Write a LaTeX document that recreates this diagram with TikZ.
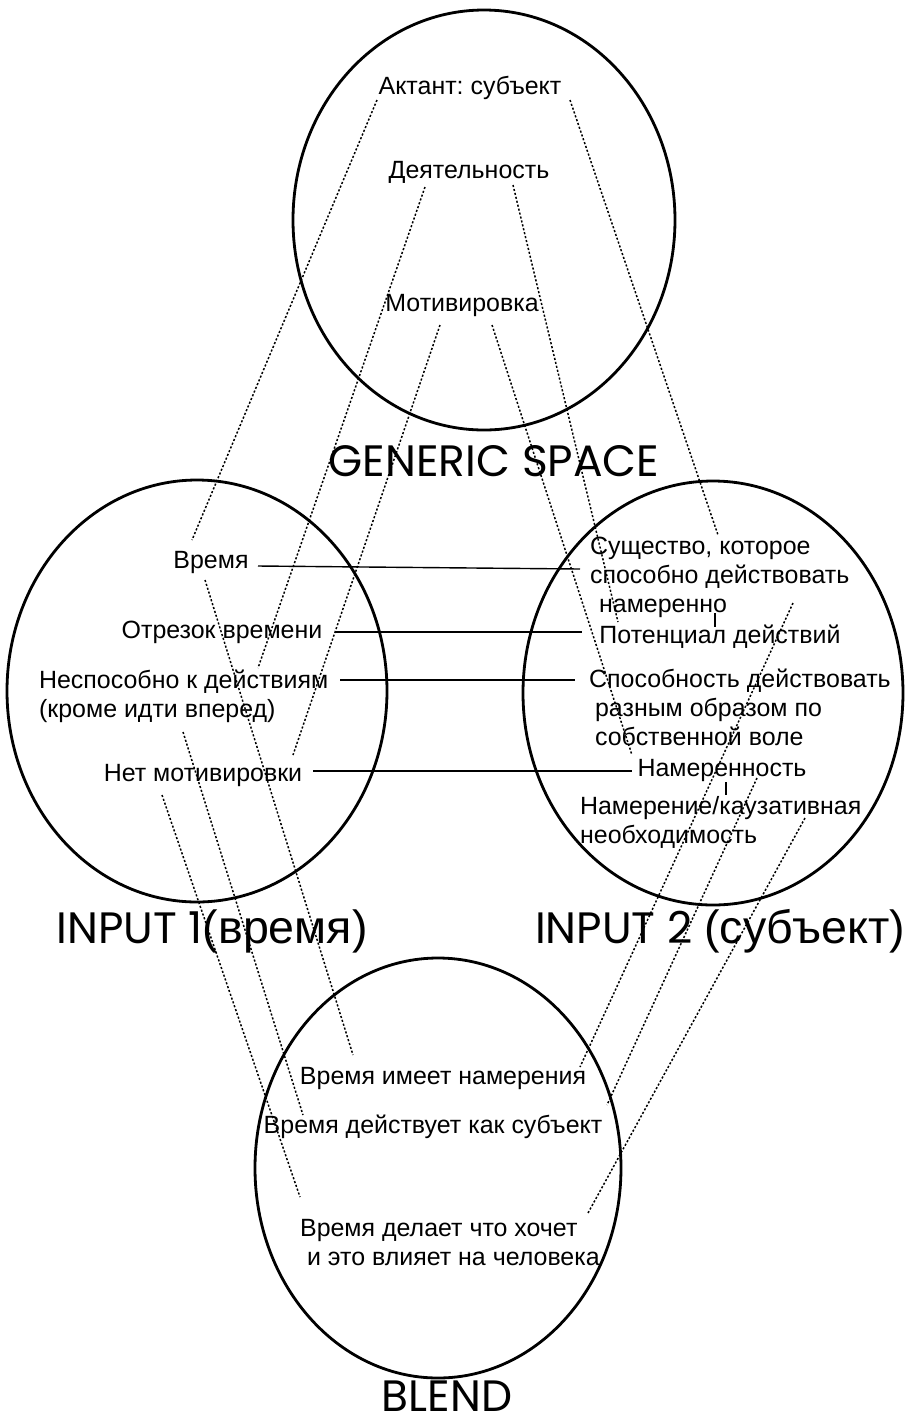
\documentclass[tikz,border=0pt]{standalone}
\usepackage{fontspec}
\setmainfont{Liberation Sans}
\newfontfamily\headfont{Poppins}
\usetikzlibrary{calc}
\frenchspacing
\newcommand{\cyrhead}[1]{{\rmfamily\fontsize{26.5}{30}\selectfont #1}}
\tikzset{
  space/.style={line width=1.6pt},
  txt/.style={font=\fontsize{14.2}{16.5}\selectfont,inner sep=1pt,align=left},
  head/.style={font=\headfont\fontsize{25}{28}\selectfont,inner sep=0pt,anchor=base},
  link/.style={line width=0.8pt},
  map/.style={line width=0.85pt,dash pattern=on 1.2pt off 1.1pt},
}

\begin{document}
\begin{tikzpicture}[x=0.02cm,y=-0.02cm]
  \useasboundingbox (0,0) rectangle (906,1428);
  % the four spaces
  \draw[space] (484,220) ellipse [x radius=191,y radius=210];
  \draw[space] (197,691) ellipse [x radius=190,y radius=211];
  \draw[space] (713,693) ellipse [x radius=190,y radius=212];
  \draw[space] (438,1168) ellipse [x radius=183,y radius=210];
  \node[head] (gen) at (494,476) {GENERIC SPACE};
  \node[head] (inp1) at (212,943) {INPUT 1\cyrhead{(время)}};
  \node[head] (inp2) at (720,943) {INPUT 2 \cyrhead{(субъект)}};
  \node[head] (blend) at (447,1411) {BLEND};
  % generic space
  \node[txt] (act) at (470,88) {Актант: субъект};
  \node[txt] (deyat) at (469,172) {Деятельность};
  \node[txt] (motiv) at (462,305) {Мотивировка};
  % input 1
  \node[txt] (vremya) at (211,562) {Время};
  \node[txt] (otrezok) at (222,632) {Отрезок времени};
  \node[txt,anchor=west] (nesposob) at (37,696) {Неспособно к действиям\\(кроме идти вперед)};
  \node[txt] (netmotiv) at (203,775) {Нет мотивировки};
  % input 2
  \node[txt,anchor=west] (sushch) at (588,577) {Существо, которое\\способно действовать\\\hspace*{1.8mm}намеренно};
  \node[txt] (potenc) at (720,637) {Потенциал действий};
  \node[txt,anchor=west] (sposob) at (587,707) {Способность действовать\\\hspace*{1.2mm}разным образом по\\\hspace*{1.2mm}собственной воле};
  \node[txt] (namer) at (722,770) {Намеренность};
  \node[txt,anchor=west] (namerenie) at (578,822) {Намерение/каузативная\\необходимость};
  % blend
  \node[txt] (imeet) at (443,1078) {Время имеет намерения};
  \node[txt] (deistv) at (433,1127) {Время действует как субъект};
  \node[txt,anchor=west] (delaet) at (298,1243) {Время делает что хочет\\\hspace*{1.4mm}и это влияет на человека};
  % cross-space links
  \draw[link] ($(vremya.center)+(47,4)$) -- ($(sushch.west)+(-8,-8)$);
  \draw[link] ($(otrezok.center)+(113,0)$) -- ($(potenc.center)+(-138,-5)$);
  \draw[link] ($(nesposob.west)+(303,-16)$) -- ($(sposob.west)+(-12,-27)$);
  \draw[link] ($(netmotiv.center)+(110,-4)$) -- ($(namer.center)+(-90,1)$);
  \draw[link] ($(sushch.west)+(127,36)$) -- ($(potenc.center)+(-5,-10)$);
  \draw[link] ($(namer.center)+(4,12)$) -- ($(namerenie.west)+(148,-27)$);
  % generic -> inputs
  \draw[map] ($(act.center)+(-93,12)$) -- ($(vremya.center)+(-19,-22)$);
  \draw[map] ($(act.center)+(100,12)$) -- ($(sushch.west)+(130,-42)$);
  \draw[map] ($(deyat.center)+(-44,15)$) -- ($(nesposob.west)+(221,-28)$);
  \draw[map] ($(deyat.center)+(44,13)$) -- ($(potenc.center)+(-102,-15)$);
  \draw[map] ($(motiv.center)+(-22,20)$) -- ($(netmotiv.center)+(90,-20)$);
  \draw[map] ($(motiv.center)+(30,20)$) -- ($(namer.center)+(-90,-15)$);
  % inputs -> blend
  \draw[map] ($(vremya.center)+(-6,18)$) -- ($(imeet.center)+(-90,-23)$);
  \draw[map] ($(nesposob.west)+(146,36)$) -- ($(deistv.center)+(-130,-12)$);
  \draw[map] ($(netmotiv.center)+(-41,20)$) -- ($(delaet.west)+(2,-46)$);
  \draw[map] ($(sushch.west)+(205,26)$) -- ($(imeet.center)+(137,-11)$);
  \draw[map] ($(namer.center)+(35,8)$) -- ($(deistv.center)+(174,-22)$);
  \draw[map] ($(namerenie.west)+(227,-4)$) -- ($(delaet.west)+(290,-30)$);
\end{tikzpicture}
\end{document}
